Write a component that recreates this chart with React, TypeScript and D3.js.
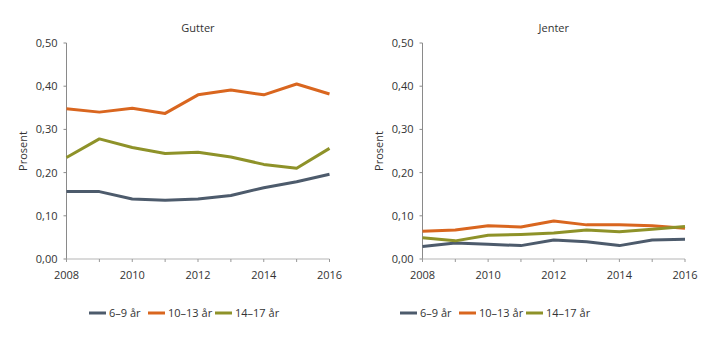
import React from "react";
import * as d3 from "d3";

const years = [2008, 2009, 2010, 2011, 2012, 2013, 2014, 2015, 2016];
const yTicks = [0, 0.1, 0.2, 0.3, 0.4, 0.5];
const xTicks = [2008, 2010, 2012, 2014, 2016];
const seriesNames = ["6–9 år", "10–13 år", "14–17 år"];
const seriesColors = ["#4d5b6c", "#d9661f", "#8e9229"];

const gutter69 = [0.156, 0.156, 0.139, 0.136, 0.139, 0.147, 0.165, 0.179, 0.196];
const gutter1013 = [0.348, 0.34, 0.349, 0.337, 0.38, 0.391, 0.38, 0.405, 0.382];
const gutter1417 = [0.235, 0.278, 0.258, 0.244, 0.247, 0.236, 0.219, 0.21, 0.256];

const jenter69 = [0.029, 0.037, 0.034, 0.031, 0.044, 0.04, 0.031, 0.044, 0.046];
const jenter1013 = [0.064, 0.067, 0.077, 0.074, 0.088, 0.079, 0.079, 0.077, 0.071];
const jenter1417 = [0.049, 0.042, 0.055, 0.057, 0.06, 0.067, 0.063, 0.069, 0.075];

const panels = [
  { title: "Gutter", series: [gutter69, gutter1013, gutter1417], x0: 66.5, x1: 329.5, legendX: 89 },
  { title: "Jenter", series: [jenter69, jenter1013, jenter1417], x0: 422.5, x1: 685, legendX: 400 },
];

const FONT = "'Open Sans', 'Noto Sans', sans-serif";
const fmt = (v: number) => v.toFixed(2).replace(".", ",");

function Panel({ p }: { p: typeof panels[number] }) {
  const x = d3.scaleLinear().domain([2008, 2016]).range([p.x0, p.x1]);
  const y = d3.scaleLinear().domain([0, 0.5]).range([259, 43]);
  const line = d3
    .line<number>()
    .x((_, i) => x(years[i]))
    .y((d) => y(d));
  const legendOffsets = [0, 59, 126];
  return (
    <g>
      <text x={(p.x0 + p.x1) / 2} y={32} textAnchor="middle" fontSize={11} fill="#333">
        {p.title}
      </text>
      <text
        transform={`translate(${p.x0 - 40},${151}) rotate(-90)`}
        textAnchor="middle"
        fontSize={11}
        fill="#333"
      >
        Prosent
      </text>
      <line x1={p.x0} x2={p.x0} y1={y(0.5)} y2={y(0)} stroke="#8a8a8a" strokeWidth={1} />
      {yTicks.map((t) => (
        <g key={t}>
          <line x1={p.x0 - 3} x2={p.x0} y1={y(t)} y2={y(t)} stroke="#8a8a8a" />
          <text x={p.x0 - 9} y={y(t) + 4} textAnchor="end" fontSize={11} fill="#333">
            {fmt(t)}
          </text>
        </g>
      ))}
      <line x1={p.x0} x2={p.x1} y1={y(0)} y2={y(0)} stroke="#b5b5b5" strokeWidth={1} />
      {years.map((yr) => (
        <line key={yr} x1={x(yr)} x2={x(yr)} y1={y(0)} y2={y(0) + 3} stroke="#999" />
      ))}
      {xTicks.map((yr) => (
        <text key={yr} x={x(yr)} y={279} textAnchor="middle" fontSize={11} fill="#333">
          {yr}
        </text>
      ))}
      {p.series.map((s, i) => (
        <path key={i} d={line(s) || ""} fill="none" stroke={seriesColors[i]} strokeWidth={3} strokeLinejoin="round" />
      ))}
      {seriesNames.map((n, i) => (
        <g key={n} transform={`translate(${p.legendX + legendOffsets[i]},313)`}>
          <line x1={0} x2={17} y1={0} y2={0} stroke={seriesColors[i]} strokeWidth={3} />
          <text x={20} y={4} fontSize={11} fill="#333">
            {n}
          </text>
        </g>
      ))}
    </g>
  );
}

export default function App() {
  return (
    <svg width={719} height={341} style={{ position: "absolute", left: 0, top: 0, fontFamily: FONT }}>
      <rect width={719} height={341} fill="#fff" />
      {panels.map((p) => (
        <Panel key={p.title} p={p} />
      ))}
    </svg>
  );
}
